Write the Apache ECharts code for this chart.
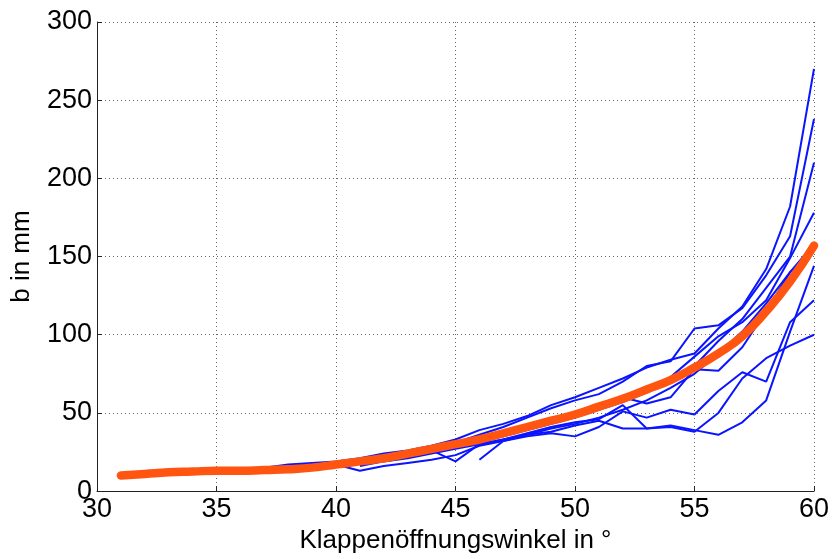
<!DOCTYPE html>
<html><head><meta charset="utf-8">
<script src="https://cdn.jsdelivr.net/npm/echarts@6/dist/echarts.min.js"></script>
<style>html,body{margin:0;padding:0;background:#fff}#c{width:832px;height:559px}</style>
</head><body><div id="c"></div>
<script>
// x positions (Klappenöffnungswinkel in °) per series, with values b in mm
const xTicks = [30, 35, 40, 45, 50, 55, 60];
const yTicks = [0, 50, 100, 150, 200, 250, 300];

const b1x = [36,37,38,39,40,41,42,43,44,45,46,47,48,49,50,51,52,53,54,55,56,57,58,59,60];
const b1y = [14,15,17,18,19,21,24,26,29,33,39,43,48,55,60,66,72,79,84,88,104,118,142,182,270];
const b2x = [38,39,40,41,42,43,44,45,46,47,48,49,50,51,52,53,54,55,56,57,58,59,60];
const b2y = [16,17,18,20,23,25,28,31,36,41,47,53,58,62,70,80,83,104,106,117,138,163,238];
const b3x = [36,37,38,39,40,41,42,43,44,45,46,47,48,49,50,51,52,53,54,55,56,57,58,59,60];
const b3y = [13,14,16,17,18,19,22,24,26,28,32,36,40,44,48,54,60,66,72,80,96,110,130,150,210];
const b4x = [40,41,42,43,44,45,46,47,48,49,50,51,52,53,54,55,56,57,58,59,60];
const b4y = [17,18,21,23,25,28,31,35,39,43,47,52,57,63,73,86,99,108,122,149,178];
const b5x = [41,42,43,44,45,46,47,48,49,50,51,52,53,54,55,56,57,58,59,60];
const b5y = [16,19,21,24,27,30,33,36,38,42,45,40,40,42,39,36,44,58,102,144];
const b6x = [40,41,42,43,44,45,46,47,48,49,50,51,52,53,54,55,56,57,58,59,60];
const b6y = [17,13,16,18,20,23,29,32,35,37,35,41,51,47,52,49,64,76,70,108,122];
const b7x = [42,43,44,45,46,47,48,49,50,51,52,53,54,55,56,57,58,59,60];
const b7y = [20,22,26,19,30,33,37,41,44,46,55,40,41,38,50,72,85,93,100];
const b8x = [46,47,48,49,50,51,52,53,54,55,56,57,58,59,60];
const b8y = [20,32,36,40,43,47,52,58,66,75,88,102,120,140,158];
const b9x = [43,44,45,46,47,48,49,50,51,52,53,54,55,56,57,58,59,60];
const b9y = [23,26,29,33,37,41,45,50,55,60,56,60,78,77,92,115,140,155];

const meanX = [31,32,33,34,35,36,37,38,39,40,41,42,43,44,45,46,47,48,49,50,51,52,53,54,55,56,57,58,59,60];
const meanY = [10,11,12,12.5,13,13,13.5,14,15,17,19,21,24,27,30,33,37,41,45,49,54,59,65,71,79,88,99,115,134,157];

const blueSets = [[b1x,b1y],[b2x,b2y],[b3x,b3y],[b4x,b4y],[b5x,b5y],[b6x,b6y],[b7x,b7y],[b8x,b8y],[b9x,b9y]];
const zip = (xs, ys) => xs.map((x, i) => [x, ys[i]]);

const series = blueSets.map(([xs, ys]) => ({
  type: 'line', data: zip(xs, ys), symbol: 'none', silent: true,
  lineStyle: { color: '#0a14ff', width: 2 }
}));
series.push({
  type: 'line', data: zip(meanX, meanY), symbol: 'none', silent: true, smooth: true,
  lineStyle: { color: '#ff5511', width: 8.5, cap: 'round' }
});

const font = 'Liberation Sans, Arial, Helvetica, sans-serif';
const chart = echarts.init(document.getElementById('c'), null, { renderer: 'canvas' });
chart.setOption({
  animation: false,
  backgroundColor: '#fff',
  grid: { left: 97, right: 15, top: 22, bottom: 65, containLabel: false },
  xAxis: {
    type: 'value', min: xTicks[0], max: xTicks[xTicks.length - 1], interval: 5,
    name: 'Klappenöffnungswinkel in °', nameLocation: 'middle', nameGap: 36,
    nameTextStyle: { fontFamily: font, fontSize: 26, color: '#000' },
    axisLine: { show: true, onZero: false, lineStyle: { color: '#222', width: 1 } },
    axisTick: { show: true, inside: true, length: 5, lineStyle: { color: '#222' } },
    axisLabel: { fontFamily: font, fontSize: 27, color: '#000', margin: 5 },
    splitLine: { show: true, lineStyle: { type: [1, 3], color: '#666', width: 1 } }
  },
  yAxis: {
    type: 'value', min: yTicks[0], max: yTicks[yTicks.length - 1], interval: 50,
    name: 'b in mm', nameLocation: 'middle', nameGap: 62, nameRotate: 90,
    nameTextStyle: { fontFamily: font, fontSize: 26, color: '#000' },
    axisLine: { show: true, lineStyle: { color: '#222', width: 1 } },
    axisTick: { show: true, inside: true, length: 5, lineStyle: { color: '#222' } },
    axisLabel: { fontFamily: font, fontSize: 27, color: '#000', margin: 5 },
    splitLine: { show: true, lineStyle: { type: [1, 3], color: '#666', width: 1 } }
  },
  series: series
});
</script></body></html>
